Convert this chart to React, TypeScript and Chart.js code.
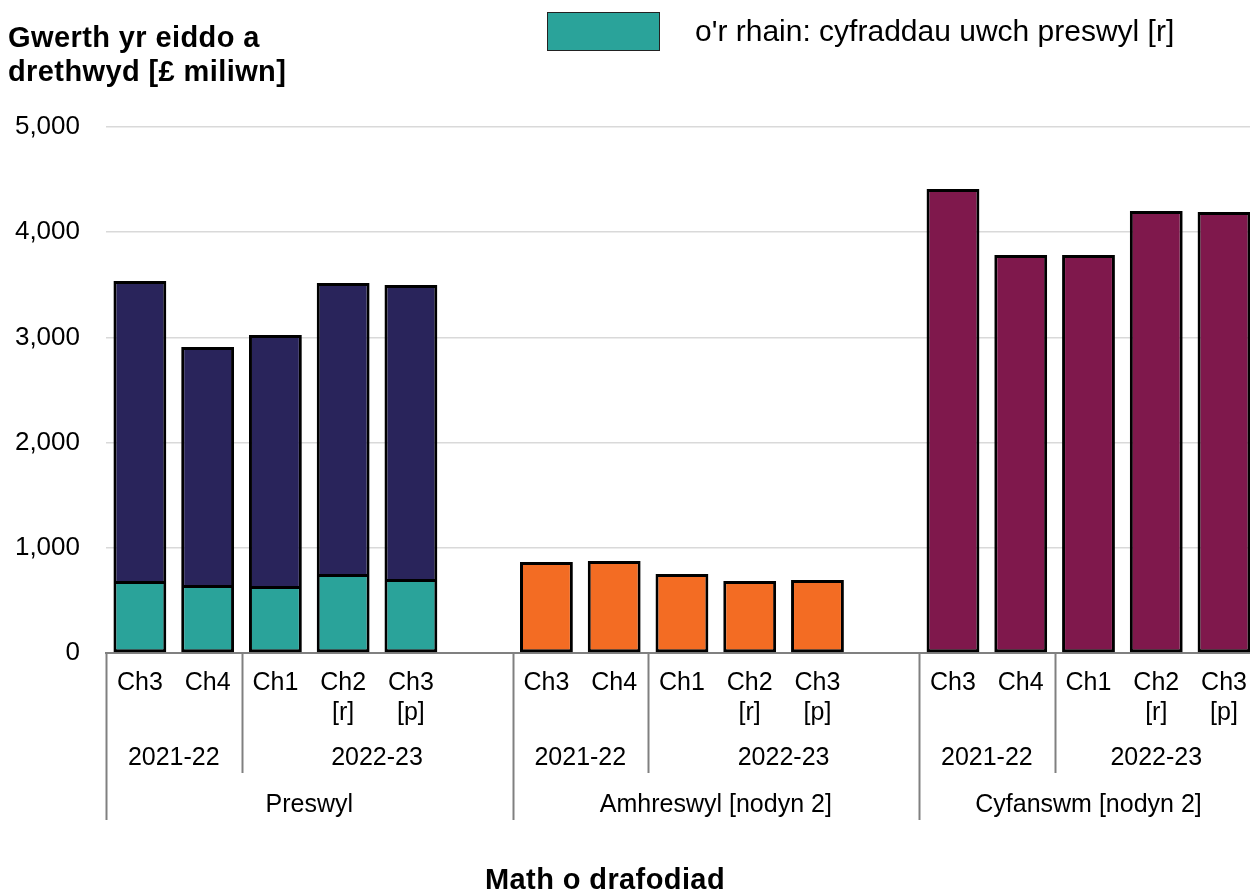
import React, { useEffect, useRef } from "react";
import { Chart, registerables } from "chart.js";

Chart.register(...registerables);

// ---- data ----
const quarterLabels = ["Ch3", "Ch4", "Ch1", "Ch2 [r]", "Ch3 [p]"];
const yearLabels = ["2021-22", "2022-23"];
const yearSpans = [
  [0, 1],
  [2, 5],
];
const groupLabels = ["Preswyl", "Amhreswyl [nodyn 2]", "Cyfanswm [nodyn 2]"];
const preswylUwch = [684, 646, 637, 751, 703];
const preswylArall = [2852, 2263, 2386, 2766, 2795];
const amhreswyl = [865, 875, 751, 684, 694];
const cyfanswm = [4411, 3783, 3783, 4202, 4192];
const yTickValues = [0, 1000, 2000, 3000, 4000, 5000];
const legendLabel = "o'r rhain: cyfraddau uwch preswyl [r]";
const yTitle = ["Gwerth yr eiddo a", "drethwyd [£ miliwn]"];
const xTitle = "Math o drafodiad";

const GROUP_SLOTS = 6;
const REG = "'Liberation Sans', Arial, sans-serif";

const TEAL = "#2aa39a";
const NAVY = "#29245b";
const ORANGE = "#f36c23";
const PURPLE = "#7f184c";

function buildLabels(): (string | string[])[] {
  const out: (string | string[])[] = [];
  groupLabels.forEach((_, gi) => {
    quarterLabels.forEach((q) => out.push(q.split(" ")));
    if (gi < groupLabels.length - 1) out.push("");
  });
  return out;
}

function placeInGroup(values: number[], group: number, total: number) {
  const arr: (number | null)[] = new Array(total).fill(null);
  values.forEach((v, i) => {
    arr[group * GROUP_SLOTS + i] = v;
  });
  return arr;
}

const decorPlugin = {
  id: "decor",
  afterDraw(chart: any) {
    const ctx = chart.ctx as CanvasRenderingContext2D;
    const x = chart.scales.x;
    const n = chart.data.labels.length;
    const bottom = chart.chartArea.bottom;
    const half = (x.getPixelForValue(1) - x.getPixelForValue(0)) / 2;
    ctx.save();
    ctx.strokeStyle = "#808080";
    ctx.lineWidth = 2;
    ctx.fillStyle = "#000";
    ctx.textAlign = "center";
    ctx.textBaseline = "middle";
    ctx.font = `25px ${REG}`;
    const vline = (px: number, len: number) => {
      ctx.beginPath();
      ctx.moveTo(Math.round(px) + 0.5, bottom);
      ctx.lineTo(Math.round(px) + 0.5, bottom + len);
      ctx.stroke();
    };
    groupLabels.forEach((g, gi) => {
      const start = gi * GROUP_SLOTS;
      const end = Math.min(start + GROUP_SLOTS - 1, n - 1);
      const left = x.getPixelForValue(start) - half;
      const right = x.getPixelForValue(end) + half;
      vline(left, 167);
      ctx.fillText(g, (left + right) / 2, bottom + 152);
      yearSpans.forEach(([a, b], yi) => {
        const s = start + a;
        const e = Math.min(start + b, end);
        const l = x.getPixelForValue(s) - half;
        const r = x.getPixelForValue(e) + half;
        if (yi > 0) vline(l, 120);
        ctx.fillText(yearLabels[yi], (l + r) / 2, bottom + 105);
      });
    });

    // y axis title (horizontal, top-left)
    ctx.textAlign = "left";
    ctx.textBaseline = "alphabetic";
    ctx.font = `bold 29px ${REG}`;
    (ctx as any).letterSpacing = "0.4px";
    ctx.fillText(yTitle[0], 8, 47);
    ctx.fillText(yTitle[1], 8, 81);

    // x axis title
    ctx.textAlign = "center";
    ctx.fillText(xTitle, 605, 889);
    (ctx as any).letterSpacing = "0px";

    // legend
    ctx.fillStyle = TEAL;
    ctx.fillRect(547, 12, 113, 39);
    ctx.strokeStyle = "#222";
    ctx.lineWidth = 1;
    ctx.strokeRect(547.5, 12.5, 112, 38);
    ctx.fillStyle = "#000";
    ctx.font = `30px ${REG}`;
    ctx.textAlign = "left";
    ctx.textBaseline = "middle";
    ctx.fillText(legendLabel, 695, 33);
    ctx.restore();
  },
};

export default function App() {
  const ref = useRef<HTMLCanvasElement | null>(null);
  useEffect(() => {
    if (!ref.current) return;
    const labels = buildLabels();
    const n = labels.length;
    const common = {
      borderColor: "#000",
      borderWidth: 3,
      borderSkipped: false,
      inflateAmount: 0,
      barPercentage: 0.78,
      categoryPercentage: 1,
    };
    const chart = new Chart(ref.current, {
      type: "bar",
      data: {
        labels,
        datasets: [
          { label: legendLabel, data: placeInGroup(preswylUwch, 0, n), backgroundColor: TEAL, ...common },
          {
            label: "Preswyl",
            data: placeInGroup(preswylArall, 0, n),
            backgroundColor: NAVY,
            ...common,
            borderSkipped: "start",
          },
          { label: "Amhreswyl [nodyn 2]", data: placeInGroup(amhreswyl, 1, n), backgroundColor: ORANGE, ...common },
          { label: "Cyfanswm [nodyn 2]", data: placeInGroup(cyfanswm, 2, n), backgroundColor: PURPLE, ...common },
        ] as any,
      },
      options: {
        responsive: false,
        animation: false,
        devicePixelRatio: 1,
        layout: { padding: { top: 127, right: 2, left: 0, bottom: 0 } },
        plugins: { legend: { display: false }, tooltip: { enabled: false }, title: { display: false } },
        scales: {
          x: {
            stacked: true,
            grid: { display: false, drawTicks: false },
            border: { display: true, color: "#808080", width: 2 },
            ticks: {
              autoSkip: false,
              maxRotation: 0,
              minRotation: 0,
              padding: 15,
              color: "#000",
              font: { family: REG, size: 25, lineHeight: 1.2 },
            },
            afterFit: (s: any) => {
              s.height = 241;
            },
          },
          y: {
            stacked: true,
            min: 0,
            max: 5000,
            afterBuildTicks: (s: any) => {
              s.ticks = yTickValues.map((v) => ({ value: v }));
            },
            grid: {
              drawTicks: false,
              lineWidth: 1.5,
              color: (c: any) => (c.tick && c.tick.value === 0 ? "rgba(0,0,0,0)" : "#d9d9d9"),
            },
            border: { display: false },
            ticks: {
              padding: 26,
              color: "#000",
              font: { family: REG, size: 26 },
              callback: (v: any) => Number(v).toLocaleString("en-US"),
            },
            afterFit: (s: any) => {
              s.width = 106;
            },
          },
        },
      },
      plugins: [decorPlugin],
    } as any);
    return () => chart.destroy();
  }, []);
  return (
    <div
      style={{
        position: "absolute",
        left: 0,
        top: 0,
        width: 1250,
        height: 894,
        overflow: "hidden",
        background: "#fff",
      }}
    >
      <canvas ref={ref} width={1262} height={894} style={{ display: "block" }} />
    </div>
  );
}
